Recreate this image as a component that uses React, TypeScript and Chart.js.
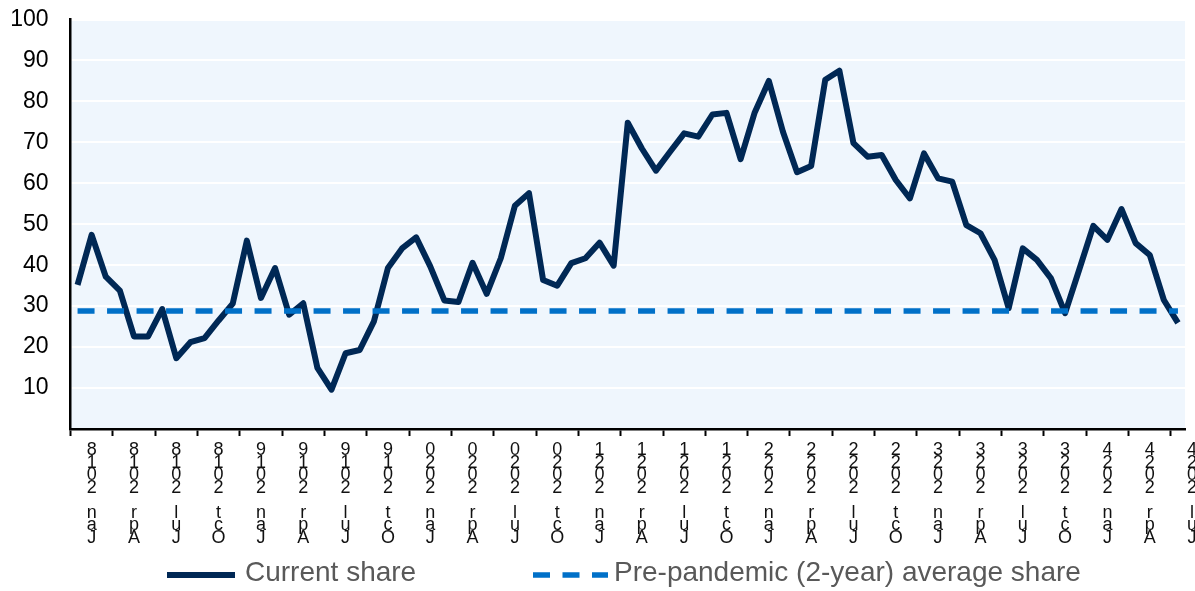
import React, { useEffect, useRef } from 'react';
import { Chart, registerables } from 'chart.js';

Chart.register(...registerables);

const years = [2018, 2019, 2020, 2021, 2022, 2023, 2024];
const monthNames = ['Jan', 'Feb', 'Mar', 'Apr', 'May', 'Jun', 'Jul', 'Aug', 'Sep', 'Oct', 'Nov', 'Dec'];
const monthCount = 79; // Jan 2018 .. Jul 2024
const categories = years.flatMap((y) => monthNames.map((m) => `${m} ${y}`)).slice(0, monthCount);

const currentShare = [
  35.2, 47.4, 37.2, 33.8, 22.6, 22.6, 29.3, 17.3, 21.2, 22.2, 26.5, 30.6,
  46.0, 32.0, 39.3, 27.9, 30.7, 14.9, 9.6, 18.5, 19.3, 26.2, 39.3, 44.1,
  46.8, 39.7, 31.4, 31.0, 40.6, 33.0, 41.7, 54.5, 57.6, 36.4, 35.0, 40.5,
  41.7, 45.5, 39.9, 74.8, 68.5, 63.1, 67.7, 72.2, 71.4, 76.8, 77.2, 65.9,
  77.3, 85.0, 72.6, 62.7, 64.2, 85.3, 87.5, 69.8, 66.5, 66.9, 60.8, 56.3,
  67.3, 61.2, 60.4, 49.8, 47.8, 41.3, 29.5, 44.1, 41.3, 36.8, 28.3, 38.9,
  49.6, 46.2, 53.7, 45.4, 42.5, 31.5, 25.9,
];

const prePandemicAverage = 28.8;
const prePandemicSeries = categories.map(() => prePandemicAverage);

const seriesLabels = ['Current share', 'Pre-pandemic (2-year) average share'];
const seriesColors = ['#002855', '#0070C8'];
const dashPattern = [17, 12.5];

const plotBackground = {
  id: 'plotBackground',
  beforeDraw(chart: any) {
    const { ctx, chartArea } = chart;
    ctx.save();
    ctx.fillStyle = '#EFF6FD';
    ctx.fillRect(chartArea.left, chartArea.top, chartArea.right - chartArea.left, chartArea.bottom - chartArea.top);
    ctx.restore();
  },
};

const legendItems = [
  { dataset: 0, x: 167, w: 68, tx: 245 },
  { dataset: 1, x: 533, w: 75, tx: 614 },
];

const customLegend = {
  id: 'customLegend',
  afterDraw(chart: any) {
    const { ctx } = chart;
    ctx.save();
    const lineY = 575;
    legendItems.forEach((it) => {
      const ds = chart.data.datasets[it.dataset];
      ctx.beginPath();
      ctx.strokeStyle = ds.borderColor;
      ctx.lineWidth = ds.borderWidth;
      ctx.setLineDash(ds.borderDash || []);
      ctx.lineCap = 'butt';
      ctx.moveTo(it.x, lineY);
      ctx.lineTo(it.x + it.w, lineY);
      ctx.stroke();
      ctx.setLineDash([]);
      ctx.fillStyle = '#595959';
      ctx.font = '28px "Liberation Sans", Arial, sans-serif';
      ctx.textBaseline = 'middle';
      ctx.textAlign = 'left';
      ctx.fillText(ds.label, it.tx, lineY - 2);
    });
    ctx.restore();
  },
};

export default function App() {
  const canvasRef = useRef<HTMLCanvasElement | null>(null);

  useEffect(() => {
    document.body.style.margin = '0';
    const canvas = canvasRef.current;
    if (!canvas) return;
    const chart = new Chart(canvas, {
      type: 'line',
      data: {
        labels: categories,
        datasets: [
          {
            label: seriesLabels[0],
            data: currentShare,
            borderColor: seriesColors[0],
            backgroundColor: seriesColors[0],
            borderWidth: 6,
            pointRadius: 0,
            tension: 0,
            borderJoinStyle: 'round',
            borderCapStyle: 'butt',
            order: 1,
          },
          {
            label: seriesLabels[1],
            data: prePandemicSeries,
            borderColor: seriesColors[1],
            backgroundColor: seriesColors[1],
            borderWidth: 5.5,
            borderDash: dashPattern,
            pointRadius: 0,
            tension: 0,
            order: 0,
          },
        ],
      },
      options: {
        responsive: false,
        animation: false,
        devicePixelRatio: 1,
        layout: { padding: { left: 10, right: 10, top: 19.5, bottom: 47 } },
        plugins: {
          legend: { display: false },
          tooltip: { enabled: false },
        },
        scales: {
          x: {
            type: 'category',
            offset: true,
            afterFit: (scale: any) => {
              scale.height = 115;
            },
            grid: {
              offset: true,
              drawOnChartArea: false,
              drawTicks: true,
              tickLength: 7,
              tickWidth: 2,
              tickColor: (c: any) => (c.index % 3 === 0 ? '#000000' : 'rgba(0,0,0,0)'),
            },
            border: { display: true, color: '#000000', width: 2.5 },
            ticks: {
              autoSkip: false,
              maxRotation: 0,
              minRotation: 0,
              padding: 8,
              labelOffset: 14.1,
              color: '#111111',
              font: { family: '"Liberation Sans", Arial, sans-serif', size: 18, lineHeight: 0.694 },
              callback: (_v: any, index: number) =>
                index % 3 === 0 ? categories[index].split('').reverse() : '',
            },
          },
          y: {
            min: 0,
            max: 100,
            afterFit: (scale: any) => {
              scale.width = 60.5;
              scale.paddingTop = 0;
              scale.paddingBottom = 0;
            },
            grid: {
              color: '#FFFFFF',
              lineWidth: 2,
              drawTicks: false,
            },
            border: { display: true, color: '#000000', width: 2.5 },
            ticks: {
              stepSize: 10,
              padding: 22,
              color: '#000000',
              font: { family: '"Liberation Sans", Arial, sans-serif', size: 23 },
              callback: (v: any) => (v === 0 ? '' : String(v)),
            },
          },
        },
      },
      plugins: [plotBackground, customLegend],
    });
    return () => chart.destroy();
  }, []);

  return (
    <div style={{ width: 1195, height: 591 }}>
      <canvas ref={canvasRef} width={1195} height={591} style={{ display: 'block' }} />
    </div>
  );
}
